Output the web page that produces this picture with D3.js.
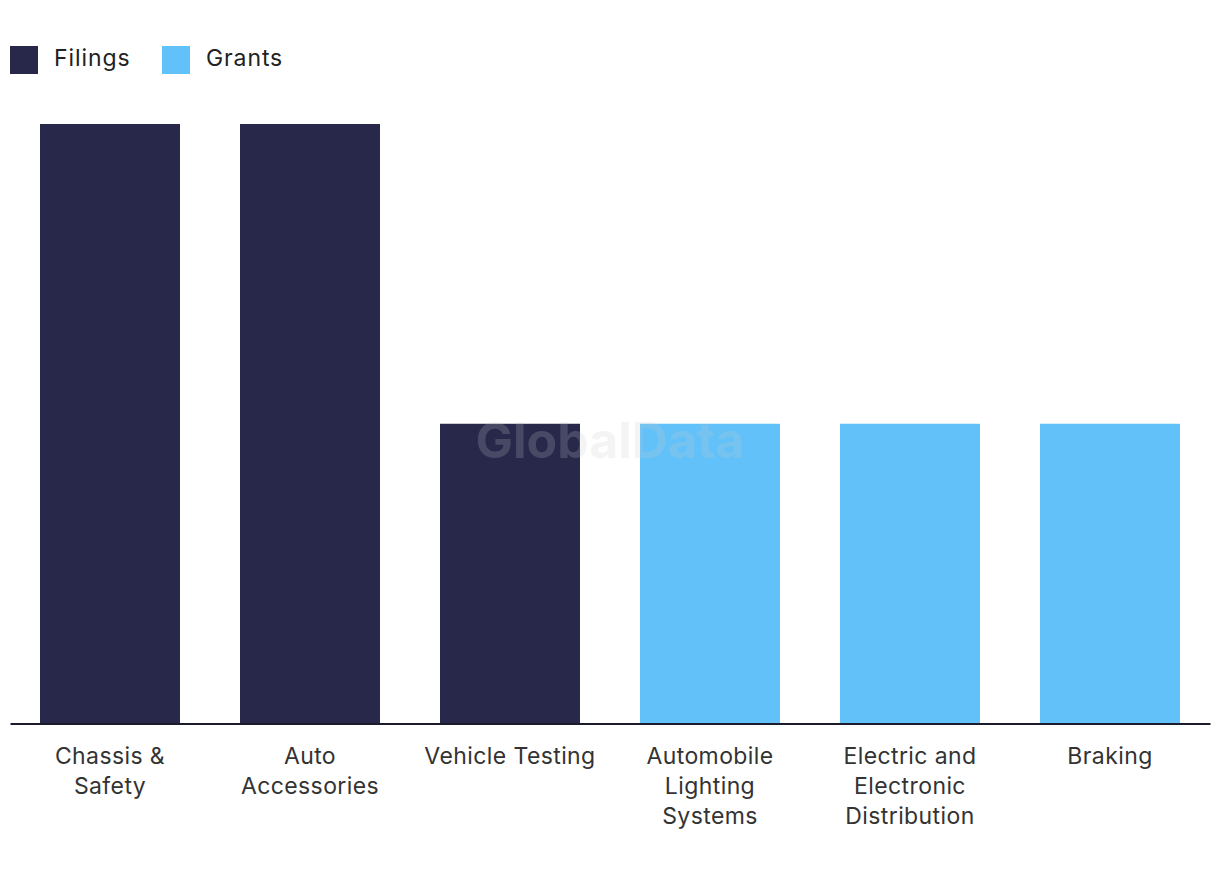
<!DOCTYPE html>
<html><head><meta charset="utf-8">
<script src="https://cdn.jsdelivr.net/npm/d3@7"></script>
<style>body{margin:0;background:#fff;font-family:Inter,"Noto Sans",sans-serif;}</style>
</head><body>
<svg id="chart" width="1220" height="880"></svg>
<script>
const categories = ["Chassis & Safety","Auto Accessories","Vehicle Testing","Automobile Lighting Systems","Electric and Electronic Distribution","Braking"];
const labelLines = [["Chassis &","Safety"],["Auto","Accessories"],["Vehicle Testing"],["Automobile","Lighting","Systems"],["Electric and","Electronic","Distribution"],["Braking"]];
const values = [2,2,1,1,1,1];
const seriesOf = ["Filings","Filings","Filings","Grants","Grants","Grants"];
const seriesNames = ["Filings","Grants"];
const colors = {Filings:"#27284a", Grants:"#62c1f8"};

const svg = d3.select("#chart");
const x = d3.scaleBand().domain(categories).range([10,1210]).paddingInner(0.3).paddingOuter(0.15);
const y = d3.scaleLinear().domain([0,2]).range([723.5,124]);

svg.append("g").selectAll("rect").data(categories).join("rect")
  .attr("x", d=>x(d)).attr("width", x.bandwidth())
  .attr("y", (d,i)=>y(values[i])).attr("height", (d,i)=>y(0)-y(values[i]))
  .attr("fill", (d,i)=>colors[seriesOf[i]]);

// watermark
svg.append("text").attr("x",610).attr("y",458).attr("text-anchor","middle")
  .attr("font-family","Inter, 'Liberation Sans', sans-serif").attr("font-weight",700)
  .attr("font-size",50).attr("fill","#cccccc").attr("opacity",0.2).text("GlobalData");

// axis
const ax = svg.append("g").attr("transform",`translate(0,${y(0)})`)
  .call(d3.axisBottom(x).tickSize(0).tickFormat(""));
ax.select(".domain").attr("stroke","#1b1b2b").attr("stroke-width",2);
ax.selectAll(".tick text").remove();
categories.forEach((c,i)=>{
  const t = svg.append("text").attr("text-anchor","middle").attr("fill","#333")
    .attr("font-size",23).attr("letter-spacing",0.4);
  labelLines[i].forEach((ln,j)=>{
    t.append("tspan").attr("x", x(c)+x.bandwidth()/2).attr("y", 764+30*j).text(ln);
  });
});

// legend
const lg = svg.append("g");
let lx = 10;
seriesNames.forEach(s=>{
  lg.append("rect").attr("x",lx).attr("y",46).attr("width",28).attr("height",28).attr("fill",colors[s]);
  lg.append("text").attr("x",lx+44).attr("y",66).attr("font-size",23).attr("letter-spacing",0.9)
    .attr("fill","#222").text(s);
  lx += 152;
});
</script>
</body></html>
